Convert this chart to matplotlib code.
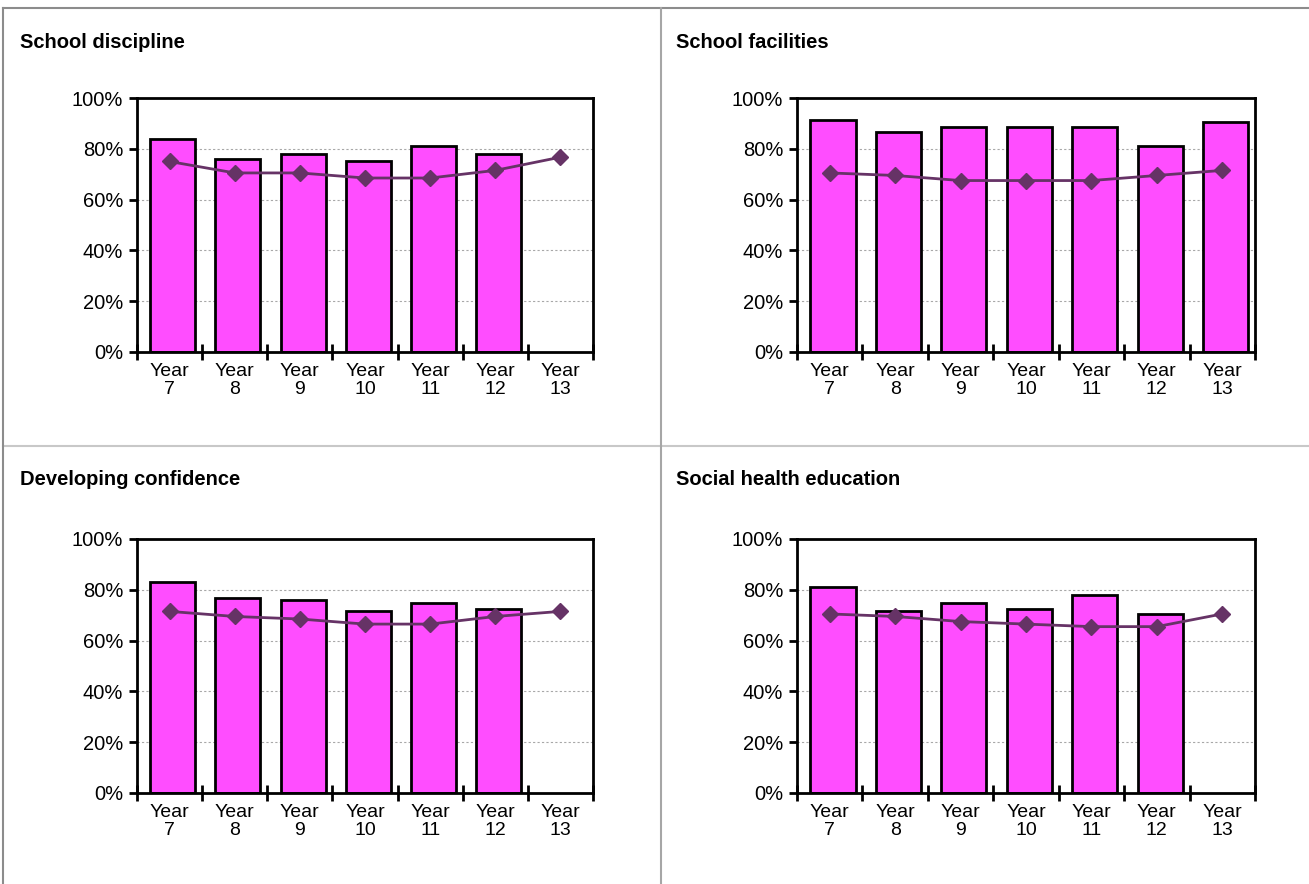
import numpy as np
import matplotlib.pyplot as plt
from matplotlib.lines import Line2D
from matplotlib.ticker import PercentFormatter

plt.rcParams['font.family'] = ['Liberation Sans', 'DejaVu Sans']

# data
years = ['Year\n7', 'Year\n8', 'Year\n9', 'Year\n10', 'Year\n11', 'Year\n12', 'Year\n13']
titles = ['School discipline', 'School facilities',
          'Developing confidence', 'Social health education']

discipline_bars = [84, 76, 78, 75, 81, 78, np.nan]
discipline_line = [75, 70.5, 70.5, 68.5, 68.5, 71.5, 76.7]

facilities_bars = [91.5, 86.5, 88.5, 88.5, 88.5, 81, 90.5]
facilities_line = [70.5, 69.5, 67.5, 67.5, 67.5, 69.5, 71.5]

confidence_bars = [83, 76.8, 75.8, 71.7, 74.8, 72.6, np.nan]
confidence_line = [71.5, 69.5, 68.5, 66.5, 66.5, 69.5, 71.5]

health_bars = [81, 71.8, 74.8, 72.6, 78, 70.5, np.nan]
health_line = [70.5, 69.5, 67.5, 66.5, 65.5, 65.5, 70.5]

bars = [discipline_bars, facilities_bars, confidence_bars, health_bars]
lines = [discipline_line, facilities_line, confidence_line, health_line]

W, H = 1309, 884
fig = plt.figure(figsize=(W / 100, H / 100), dpi=100)

# panel borders
def hline(y, x0, x1, c):
    fig.add_artist(Line2D([x0 / W, x1 / W], [1 - y / H, 1 - y / H], color=c, lw=1.5))

def vline(x, y0, y1, c):
    fig.add_artist(Line2D([x / W, x / W], [1 - y0 / H, 1 - y1 / H], color=c, lw=1.5))

hline(8, 3, W, '#8c8c8c')
hline(446, 3, W, '#c8c8c8')
vline(3, 8, H, '#8c8c8c')
vline(661, 8, H, '#a6a6a6')

# pixel boxes: (left, top, right, bottom)
boxes = [(137, 98, 593, 352), (797, 98, 1255, 352),
         (137, 539, 593, 793), (797, 539, 1255, 793)]
title_pos = [(20, 42), (676, 42), (20, 480), (676, 480)]

x = np.arange(len(years))
for i in range(4):
    l, t, r, b = boxes[i]
    ax = fig.add_axes([l / W, 1 - b / H, (r - l) / W, (b - t) / H])
    ax.bar(x + 0.05, bars[i], width=0.69, color='#ff4dff', edgecolor='black', linewidth=2, zorder=2)
    ax.plot(x, lines[i], color='#663366', lw=2, marker='D', markersize=8.5, zorder=3)
    ax.set_xlim(-0.5, 6.5)
    ax.set_ylim(0, 100)
    ax.set_yticks([0, 20, 40, 60, 80, 100])
    ax.yaxis.set_major_formatter(PercentFormatter(decimals=0))
    ax.set_xticks(x)
    ax.set_xticklabels(years, fontsize=14, linespacing=1.08)
    ax.set_xticks(np.arange(-0.5, 7, 1), minor=True)
    ax.tick_params(axis='x', which='major', length=0, pad=8)
    ax.tick_params(axis='x', which='minor', direction='inout', length=12, width=2)
    ax.tick_params(axis='y', labelsize=14.5, direction='out', length=6, width=2, pad=4)
    for s in ax.spines.values():
        s.set_linewidth(2)
    ax.grid(axis='y', color='#a8a8a8', linestyle=(0, (2, 2)), lw=0.8, zorder=1)
    ax.set_axisbelow(True)
    tx, ty = title_pos[i]
    fig.text(tx / W, 1 - ty / H, titles[i], fontsize=14.5, fontweight='bold', va='center', ha='left')

fig.savefig('out.png', dpi=100)
